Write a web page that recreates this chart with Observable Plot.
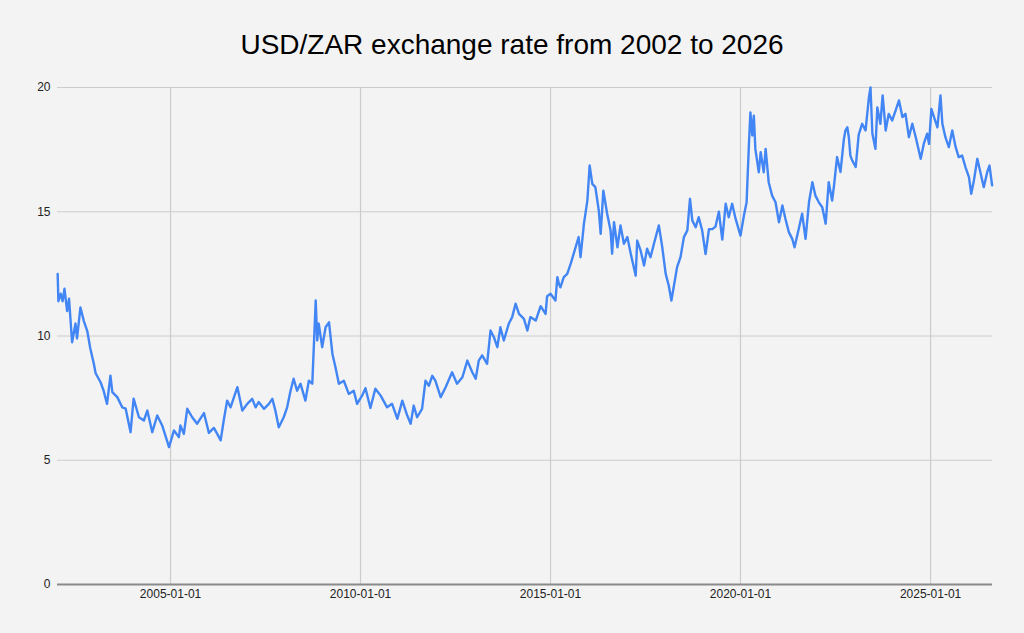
<!DOCTYPE html>
<html>
<head>
<meta charset="utf-8">
<script src="https://cdn.jsdelivr.net/npm/d3@7"></script>
<script src="https://cdn.jsdelivr.net/npm/@observablehq/plot@0.6"></script>
<style>
  html, body { margin: 0; padding: 0; background: #f3f3f3; }
  #wrap { width: 1024px; height: 633px; background: #f3f3f3; overflow: hidden; }
  #title { font-family: "Liberation Sans", Arial, sans-serif; font-size: 28px; line-height: 32px;
           padding-top: 29px; height: 41px; text-align: center; color: #000; }
  #chart svg { display: block; }
</style>
</head>
<body>
<div id="wrap">
  <div id="title">USD/ZAR exchange rate from 2002 to 2026</div>
  <div id="chart"></div>
</div>
<script>
const years = [
  2002.03, 2002.05, 2002.11, 2002.16, 2002.21, 2002.28, 2002.33, 2002.41, 2002.50, 2002.54,
  2002.63, 2002.72, 2002.81, 2002.89, 2002.98, 2003.03, 2003.16, 2003.24, 2003.33, 2003.42,
  2003.47, 2003.60, 2003.73, 2003.82, 2003.95, 2004.03, 2004.17, 2004.30, 2004.39, 2004.52,
  2004.65, 2004.78, 2004.96, 2005.09, 2005.22, 2005.26, 2005.35, 2005.44, 2005.57, 2005.70,
  2005.88, 2006.01, 2006.14, 2006.23, 2006.32, 2006.40, 2006.49, 2006.58, 2006.76, 2006.89,
  2007.02, 2007.15, 2007.24, 2007.32, 2007.46, 2007.59, 2007.68, 2007.76, 2007.85, 2007.98,
  2008.07, 2008.16, 2008.24, 2008.33, 2008.42, 2008.55, 2008.64, 2008.73, 2008.77, 2008.82,
  2008.86, 2008.90, 2008.99, 2009.08, 2009.17, 2009.26, 2009.34, 2009.43, 2009.56, 2009.69,
  2009.82, 2009.91, 2010.04, 2010.13, 2010.26, 2010.39, 2010.53, 2010.70, 2010.83, 2010.97,
  2011.10, 2011.23, 2011.32, 2011.40, 2011.49, 2011.62, 2011.71, 2011.80, 2011.89, 2011.97,
  2012.11, 2012.24, 2012.41, 2012.54, 2012.68, 2012.81, 2012.94, 2013.03, 2013.11, 2013.20,
  2013.33, 2013.42, 2013.51, 2013.60, 2013.68, 2013.77, 2013.90, 2013.99, 2014.08, 2014.17,
  2014.30, 2014.39, 2014.47, 2014.61, 2014.74, 2014.87, 2014.91, 2015.00, 2015.13, 2015.18,
  2015.22, 2015.26, 2015.35, 2015.44, 2015.53, 2015.66, 2015.74, 2015.79, 2015.88, 2015.97,
  2016.03, 2016.10, 2016.18, 2016.27, 2016.32, 2016.39, 2016.49, 2016.58, 2016.62, 2016.67,
  2016.76, 2016.84, 2016.93, 2017.02, 2017.11, 2017.24, 2017.28, 2017.37, 2017.46, 2017.54,
  2017.63, 2017.72, 2017.85, 2017.94, 2018.03, 2018.11, 2018.18, 2018.24, 2018.33, 2018.42,
  2018.51, 2018.60, 2018.67, 2018.73, 2018.82, 2018.90, 2018.99, 2019.08, 2019.17, 2019.26,
  2019.34, 2019.43, 2019.52, 2019.61, 2019.69, 2019.78, 2019.87, 2020.00, 2020.09, 2020.16,
  2020.22, 2020.26, 2020.31, 2020.35, 2020.39, 2020.48, 2020.53, 2020.61, 2020.66, 2020.74,
  2020.83, 2020.92, 2021.01, 2021.10, 2021.18, 2021.27, 2021.36, 2021.42, 2021.53, 2021.62,
  2021.71, 2021.80, 2021.89, 2021.97, 2022.06, 2022.15, 2022.24, 2022.32, 2022.41, 2022.46,
  2022.54, 2022.63, 2022.72, 2022.76, 2022.81, 2022.85, 2022.89, 2022.94, 2023.03, 2023.11,
  2023.20, 2023.29, 2023.38, 2023.42, 2023.47, 2023.55, 2023.60, 2023.68, 2023.74, 2023.82,
  2023.90, 2023.99, 2024.08, 2024.17, 2024.26, 2024.34, 2024.43, 2024.52, 2024.61, 2024.74,
  2024.82, 2024.91, 2024.96, 2025.02, 2025.09, 2025.18, 2025.26, 2025.31, 2025.39, 2025.48,
  2025.57, 2025.66, 2025.74, 2025.83, 2025.92, 2026.01, 2026.07, 2026.14, 2026.23, 2026.32,
  2026.40, 2026.49, 2026.55, 2026.62
];

// USD/ZAR rate at each sampled point
const rates = [
  12.5, 11.4, 11.7, 11.4, 11.9, 11.0, 11.5, 9.75, 10.5, 9.9,
  11.15, 10.6, 10.2, 9.5, 8.9, 8.5, 8.14, 7.8, 7.27, 8.4,
  7.74, 7.54, 7.13, 7.08, 6.13, 7.48, 6.73, 6.6, 7.0, 6.13,
  6.8, 6.4, 5.53, 6.2, 5.93, 6.4, 6.06, 7.07, 6.73, 6.47,
  6.9, 6.1, 6.3, 6.06, 5.8, 6.6, 7.4, 7.13, 7.94, 7.0,
  7.27, 7.47, 7.13, 7.34, 7.07, 7.27, 7.47, 7.0, 6.33, 6.73,
  7.13, 7.8, 8.28, 7.8, 8.08, 7.4, 8.2, 8.08, 9.55, 11.43,
  9.82, 10.5, 9.55, 10.35, 10.55, 9.28, 8.74, 8.08, 8.2, 7.67,
  7.8, 7.27, 7.6, 7.9, 7.1, 7.88, 7.6, 7.13, 7.27, 6.67,
  7.4, 6.8, 6.47, 7.2, 6.73, 7.07, 8.2, 8.0, 8.4, 8.2,
  7.54, 7.94, 8.54, 8.08, 8.34, 9.01, 8.54, 8.28, 9.01, 9.22,
  8.88, 10.22, 9.95, 9.55, 10.35, 9.82, 10.49, 10.76, 11.3, 10.89,
  10.69, 10.22, 10.76, 10.62, 11.2, 10.89, 11.6, 11.7, 11.43, 12.37,
  12.1, 11.96, 12.37, 12.5, 12.9, 13.57, 13.98, 13.17, 14.52, 15.45,
  16.86, 16.12, 15.99, 15.05, 14.11, 15.85, 14.92, 14.25, 13.31, 14.58,
  13.57, 14.45, 13.71, 13.98, 13.31, 12.43, 13.84, 13.44, 12.84, 13.51,
  13.17, 13.71, 14.45, 13.57, 12.5, 12.03, 11.43, 11.96, 12.77, 13.17,
  13.98, 14.25, 15.52, 14.65, 14.38, 14.78, 14.25, 13.3, 14.3, 14.3,
  14.4, 15.0, 13.88, 15.32, 14.78, 15.32, 14.72, 14.04, 14.85, 15.38,
  17.67, 19.0, 18.07, 18.87, 17.53, 16.59, 17.4, 16.59, 17.53, 16.19,
  15.65, 15.38, 14.58, 15.25, 14.72, 14.18, 13.91, 13.57, 14.31, 14.92,
  13.91, 15.38, 16.19, 15.65, 15.38, 15.18, 14.52, 16.19, 15.45, 16.06,
  17.2, 16.6, 17.93, 18.27, 18.4, 18.0, 17.26, 17.06, 16.8, 18.1,
  18.54, 18.27, 19.61, 20.0, 18.14, 17.53, 19.2, 18.54, 19.68, 18.27,
  18.94, 18.67, 19.07, 19.48, 18.81, 18.94, 18.0, 18.54, 18.0, 17.13,
  17.73, 18.14, 17.73, 19.14, 18.81, 18.4, 19.68, 18.54, 18.0, 17.6,
  18.27, 17.6, 17.2, 17.26, 16.79, 16.39, 15.72, 16.26, 17.13, 16.53,
  15.99, 16.59, 16.86, 16.06
];

const yTicks = [0, 5, 10, 15, 20];
const xTickLabels = ["2005-01-01", "2010-01-01", "2015-01-01", "2020-01-01", "2025-01-01"];
const xDomainYears = [2002.026, 2026.63];

function yearToDate(y) {
  const yr = Math.floor(y);
  const start = Date.UTC(yr, 0, 1);
  const end = Date.UTC(yr + 1, 0, 1);
  return new Date(start + (y - yr) * (end - start));
}

const data = years.map((y, i) => ({ date: yearToDate(y), rate: rates[i] }));
const xTicks = xTickLabels.map(s => new Date(s + "T00:00:00Z"));

const chart = Plot.plot({
  width: 1024,
  height: 563,
  marginTop: 17,
  marginBottom: 49,
  marginLeft: 57,
  marginRight: 32,
  style: {
    background: "#f3f3f3",
    fontFamily: "'Liberation Sans', Arial, sans-serif",
    fontSize: "12px",
    color: "#222"
  },
  x: { type: "utc", domain: xDomainYears.map(yearToDate) },
  y: { domain: [0, 20] },
  marks: [
    Plot.gridY(yTicks.filter(d => d > 0), { stroke: "#cccccc", strokeOpacity: 1, strokeWidth: 1 }),
    Plot.gridX(xTicks, { stroke: "#cccccc", strokeOpacity: 1, strokeWidth: 1.2 }),
    Plot.ruleY([0], { stroke: "#8a8a8a", strokeWidth: 2 }),
    Plot.axisY(yTicks, { tickSize: 0, tickPadding: 7, label: null, fill: "#222" }),
    Plot.axisX(xTicks, { tickSize: 0, tickPadding: 5, label: null, fill: "#222",
                          tickFormat: d3.utcFormat("%Y-%m-%d") }),
    Plot.line(data, { x: "date", y: "rate", stroke: "#4285f4", strokeWidth: 2.4, strokeLinejoin: "round" })
  ]
});
document.getElementById("chart").appendChild(chart);
</script>
</body>
</html>
